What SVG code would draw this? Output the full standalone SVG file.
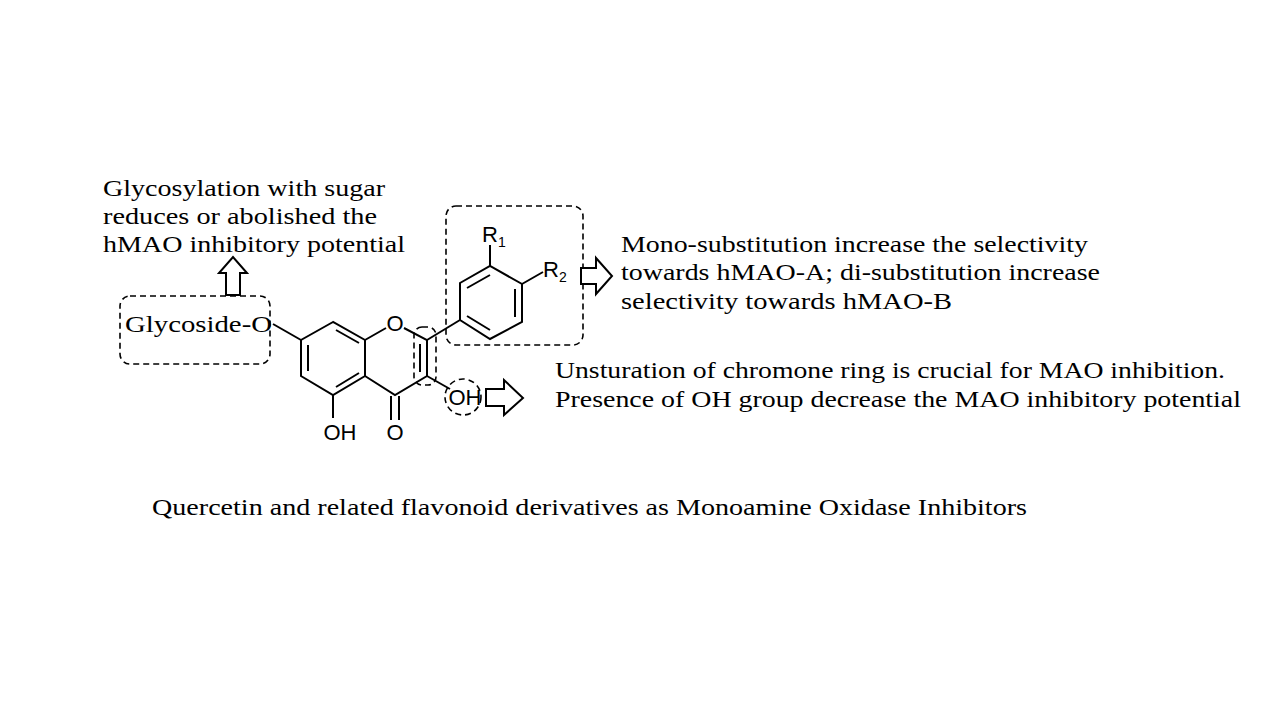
<svg xmlns="http://www.w3.org/2000/svg" width="1280" height="720" viewBox="0 0 1280 720">
<style>
.t{font-family:"Liberation Serif",serif;font-size:23px;fill:#000}
.c{font-family:"Liberation Sans",Arial,sans-serif;font-size:22px;fill:#000}
.s{font-family:"Liberation Sans",Arial,sans-serif;font-size:14px}
.b{stroke:#000;stroke-width:2;fill:none}
.d{stroke:#000;stroke-width:1.6;fill:none;stroke-dasharray:6,4}
.ar{stroke:#000;stroke-width:2;fill:#fff;stroke-linejoin:miter}
</style>
<rect width="1280" height="720" fill="#fff"/>
<g id="text-left">
<text class="t" x="103" y="196" textLength="282" lengthAdjust="spacingAndGlyphs">Glycosylation with sugar</text>
<text class="t" x="103" y="224" textLength="274" lengthAdjust="spacingAndGlyphs">reduces or abolished the</text>
<text class="t" x="103" y="252" textLength="302" lengthAdjust="spacingAndGlyphs">hMAO inhibitory potential</text>
</g>
<g id="text-right">
<text class="t" x="621" y="252" textLength="467" lengthAdjust="spacingAndGlyphs">Mono-substitution increase the selectivity</text>
<text class="t" x="621" y="280" textLength="479" lengthAdjust="spacingAndGlyphs">towards hMAO-A; di-substitution increase</text>
<text class="t" x="621" y="309" textLength="331" lengthAdjust="spacingAndGlyphs">selectivity towards hMAO-B</text>
</g>
<g id="text-lower">
<text class="t" x="555" y="378" textLength="670" lengthAdjust="spacingAndGlyphs">Unsturation of chromone ring is crucial for MAO inhibition.</text>
<text class="t" x="555" y="407" textLength="686" lengthAdjust="spacingAndGlyphs">Presence of OH group decrease the MAO inhibitory potential</text>
</g>
<g id="caption">
<text class="t" x="152" y="515" textLength="875" lengthAdjust="spacingAndGlyphs">Quercetin and related flavonoid derivatives as Monoamine Oxidase Inhibitors</text>
</g>
<g id="molecule">
<path class="b" d="M333,322 L301,340 L301,376 L333,395 L365,376 L365,340 Z"/>
<path class="b" d="M308,345 L308,371 M336,330 L359,343 M336,387 L359,373"/>
<path class="b" d="M365,340 L386,328 M404,328 L427,340 L427,376 L395,395 L365,376"/>
<path class="b" d="M420,344 L420,372"/>
<path class="b" d="M391,396 L391,420 M399,396 L399,420"/>
<path class="b" d="M333,395 L333,418"/>
<path class="b" d="M427,376 L450,389"/>
<path class="b" d="M301,340 L273,324"/>
<path class="b" d="M427,340 L460,320"/>
<path class="b" d="M460,283 L490,266 L522,284 L522,322 L490,339 L460,320 Z"/>
<path class="b" d="M467,288 L490,275 M515,289 L515,317 M467,316 L490,330"/>
<path class="b" d="M490,266 L490,245 M522,284 L543,272"/>
<text class="c" x="395" y="331" text-anchor="middle">O</text>
<text class="c" x="395" y="440" text-anchor="middle">O</text>
<text class="c" x="340" y="440" text-anchor="middle">OH</text>
<text class="c" x="465" y="405" text-anchor="middle">OH</text>
<text class="c" x="482" y="242">R<tspan class="s" dy="5">1</tspan></text>
<text class="c" x="543" y="277">R<tspan class="s" dy="5">2</tspan></text>
<text class="t" x="125" y="332" textLength="147" lengthAdjust="spacingAndGlyphs">Glycoside-O</text>
</g>
<g id="highlights">
<rect class="d" x="120" y="296" width="150" height="68" rx="10"/>
<rect class="d" x="446" y="206" width="137" height="139" rx="10"/>
<rect class="d" x="414" y="327" width="22" height="58" rx="8"/>
<circle class="d" cx="463" cy="397" r="18"/>
</g>
<g id="connectors">
<path class="ar" d="M226,295 L226,273 L219,273 L233,257 L247,273 L240,273 L240,295 Z"/>
<path class="ar" d="M581,268 L596,268 L596,258 L612,276 L596,294 L596,284 L581,284 Z"/>
<path class="ar" d="M486,389 L504,389 L504,380 L523,398 L504,415 L504,406 L486,406 Z"/>
</g>
</svg>
